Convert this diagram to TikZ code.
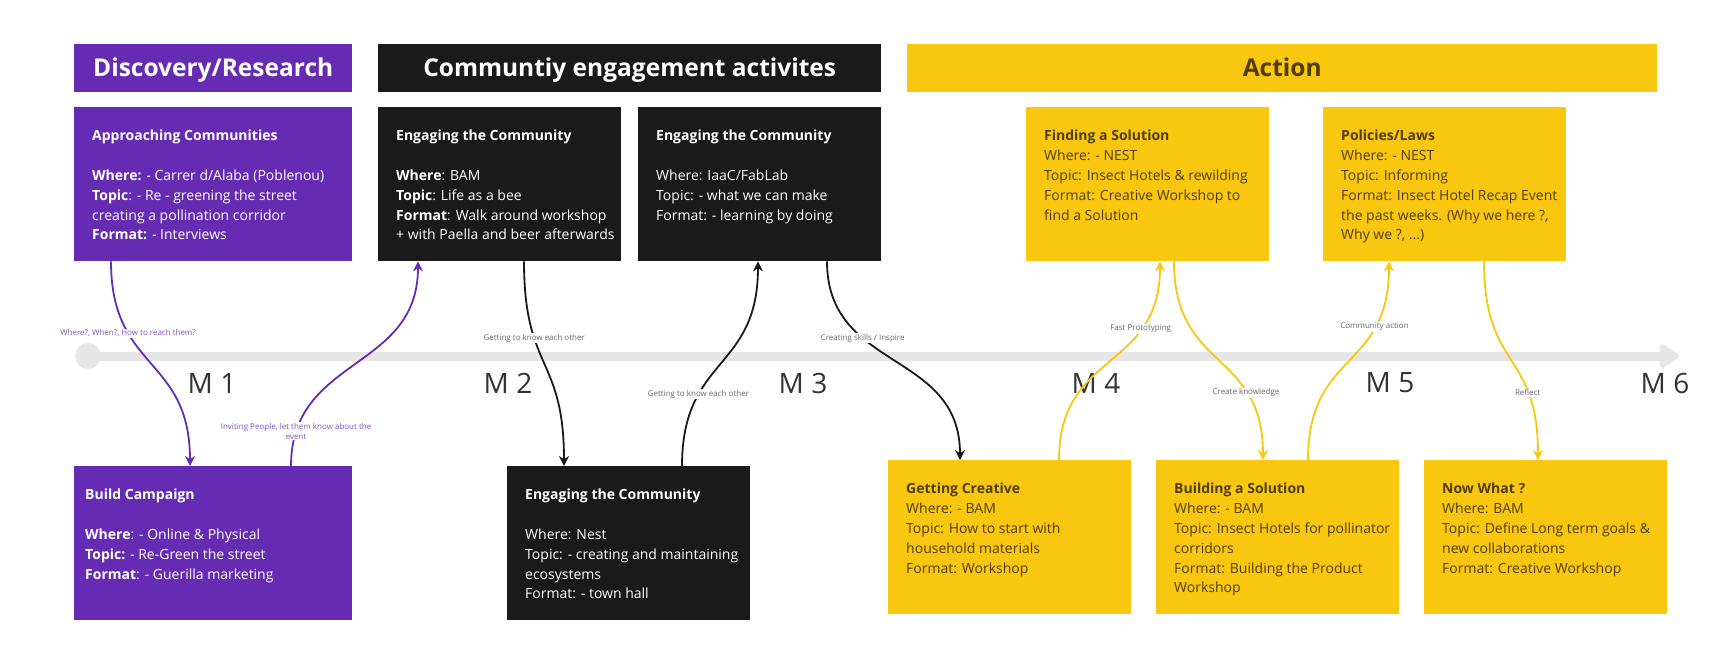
\documentclass[tikz,border=0pt]{standalone}
\usepackage{fontspec}
\setmainfont{Open Sans}
\usetikzlibrary{arrows.meta}

\definecolor{mpurple}{HTML}{652CB3}
\definecolor{mblack}{HTML}{1A1A1A}
\definecolor{myellow}{HTML}{FAC710}
\definecolor{mbrown}{HTML}{4F3D00}
\definecolor{mgray}{HTML}{E6E6E6}

\tikzset{
  header/.style={anchor=north west, minimum height=48pt, inner sep=0pt,
    text height=17.5pt, text depth=0pt, font=\fontsize{24.5}{28}\selectfont\bfseries},
  card/.style={anchor=north west, minimum height=154pt, minimum width=243pt, inner sep=0pt},
  cardtext/.style={anchor=north west, align=left, inner sep=0pt,
    font=\fontsize{14}{19.8}\selectfont},
  link/.style={line width=1.8pt, -{Stealth[length=10pt,width=10pt]}},
  linklabel/.style={fill=white, inner sep=1pt, align=center,
    font=\fontsize{8}{10}\selectfont},
  month/.style={font=\fontsize{28}{30}\selectfont, text=black!80}
}

\begin{document}
\begin{tikzpicture}[x=1pt,y=-1pt]
    \useasboundingbox (0,0) rectangle (1724,659);

    % timeline
    \node[circle, fill=mgray, minimum size=26pt, inner sep=0pt] (start) at (88,356) {};
    \coordinate (end) at (1679,356);
    \draw[mgray, line width=9pt, -{Triangle[length=22pt,width=27pt,round]}] (start.center) -- (end);
    \foreach \m/\x in {1/212,2/508,3/803,4/1096,5/1390,6/1665}{\node[month] (m\m) at (\x,383) {M \m};}

    % headers
    \node[header, fill=mpurple, text=white, minimum width=278pt] (hdisc) at (74,44) {Discovery/Research};
    \node[header, fill=mblack, text=white, minimum width=503pt] (hcomm) at (378,44) {Communtiy engagement activites};
    \node[header, fill=myellow, text=mbrown, minimum width=750pt] (hact) at (907,44) {Action};

    % top row
    \node[card, fill=mpurple, minimum width=278pt] (appr) at (74,107) {};
    \node[cardtext, text=white] at ([shift={(18,23)}]appr.north west)
      {\textbf{Approaching Communities}\\[19.8pt]
       \textbf{Where:} - Carrer d/Alaba (Poblenou)\\
       \textbf{Topic}: - Re - greening the street\\
       creating a pollination corridor\\
       \textbf{Format:} - Interviews};
    \node[card, fill=mblack] (bam) at (378,107) {};
    \node[cardtext, text=white] at ([shift={(18,23)}]bam.north west)
      {\textbf{Engaging the Community}\\[19.8pt]
       \textbf{Where}: BAM\\
       \textbf{Topic}: Life as a bee\\
       \textbf{Format}: Walk around workshop\\
       + with Paella and beer afterwards};
    \node[card, fill=mblack] (fablab) at (638,107) {};
    \node[cardtext, text=white] at ([shift={(18,23)}]fablab.north west)
      {\textbf{Engaging the Community}\\[19.8pt]
       Where: IaaC/FabLab\\
       Topic: - what we can make\\
       Format: - learning by doing};
    \node[card, fill=myellow] (finding) at (1026,107) {};
    \node[cardtext, text=mbrown] at ([shift={(18,23)}]finding.north west)
      {\textbf{Finding a Solution}\\
       Where: - NEST\\
       Topic: Insect Hotels \& rewilding\\
       Format: Creative Workshop to\\
       find a Solution};
    \node[card, fill=myellow] (policies) at (1323,107) {};
    \node[cardtext, text=mbrown] at ([shift={(18,23)}]policies.north west)
      {\textbf{Policies/Laws}\\
       Where: - NEST\\
       Topic: Informing\\
       Format: Insect Hotel Recap Event\\
       the past weeks. (Why we here ?,\\
       Why we ?, ...)};

    % bottom row
    \node[card, fill=mpurple, minimum width=278pt] (build) at (74,466) {};
    \node[cardtext, text=white] at ([shift={(11,23)}]build.north west)
      {\textbf{Build Campaign}\\[19.8pt]
       \textbf{Where}: - Online \& Physical\\
       \textbf{Topic:} - Re-Green the street\\
       \textbf{Format}: - Guerilla marketing};
    \node[card, fill=mblack] (nest) at (507,466) {};
    \node[cardtext, text=white] at ([shift={(18,23)}]nest.north west)
      {\textbf{Engaging the Community}\\[19.8pt]
       Where: Nest\\
       Topic: - creating and maintaining\\
       ecosystems\\
       Format: - town hall};
    \node[card, fill=myellow] (creative) at (888,460) {};
    \node[cardtext, text=mbrown] at ([shift={(18,23)}]creative.north west)
      {\textbf{Getting Creative}\\
       Where: - BAM\\
       Topic: How to start with\\
       household materials\\
       Format: Workshop};
    \node[card, fill=myellow] (building) at (1156,460) {};
    \node[cardtext, text=mbrown] at ([shift={(18,23)}]building.north west)
      {\textbf{Building a Solution}\\
       Where: - BAM\\
       Topic: Insect Hotels for pollinator\\
       corridors\\
       Format: Building the Product\\
       Workshop};
    \node[card, fill=myellow] (nowwhat) at (1424,460) {};
    \node[cardtext, text=mbrown] at ([shift={(18,23)}]nowwhat.north west)
      {\textbf{Now What ?}\\
       Where: BAM\\
       Topic: Define Long term goals \&\\
       new collaborations\\
       Format: Creative Workshop};

    % connectors
    \draw[link, mpurple] ([xshift=37pt]appr.south west) .. controls +(0,110) and +(0,-110) .. ([xshift=116pt]build.north west)
      node[linklabel, text=mpurple!80, pos=0.3] {Where?, When?, How to reach them?};
    \draw[link, mpurple] ([xshift=217pt]build.north west) .. controls +(0,-110) and +(0,110) .. ([xshift=40pt]bam.south west)
      node[linklabel, text=mpurple!80, pos=0.12] {Inviting People, let them know about the\\event};
    \draw[link, mblack] ([xshift=146pt]bam.south west) .. controls +(0,110) and +(0,-110) .. ([xshift=57pt]nest.north west)
      node[linklabel, text=black!60, pos=0.33] {Getting to know each other};
    \draw[link, mblack] ([xshift=175pt]nest.north west) .. controls +(0,-110) and +(0,110) .. ([xshift=120pt]fablab.south west)
      node[linklabel, text=black!60, pos=0.3] {Getting to know each other};
    \draw[link, mblack] ([xshift=189pt]fablab.south west) .. controls +(0,110) and +(0,-110) .. ([xshift=72pt]creative.north west)
      node[linklabel, text=black!60, pos=0.34] {Creating skills / Inspire};
    \draw[link, myellow] ([xshift=171pt]creative.north west) .. controls +(0,-110) and +(0,110) .. ([xshift=134pt]finding.south west)
      node[linklabel, text=black!60, pos=0.72] {Fast Prototyping};
    \draw[link, myellow] ([xshift=148pt]finding.south west) .. controls +(0,110) and +(0,-110) .. ([xshift=107pt]building.north west)
      node[linklabel, text=black!60, pos=0.72] {Create knowledge};
    \draw[link, myellow] ([xshift=152pt]building.north west) .. controls +(0,-110) and +(0,110) .. ([xshift=66pt]policies.south west)
      node[linklabel, text=black!60, pos=0.73] {Community action};
    \draw[link, myellow] ([xshift=161pt]policies.south west) .. controls +(0,110) and +(0,-110) .. ([xshift=114pt]nowwhat.north west)
      node[linklabel, text=black!60, pos=0.72] {Reflect};
\end{tikzpicture}
\end{document}
